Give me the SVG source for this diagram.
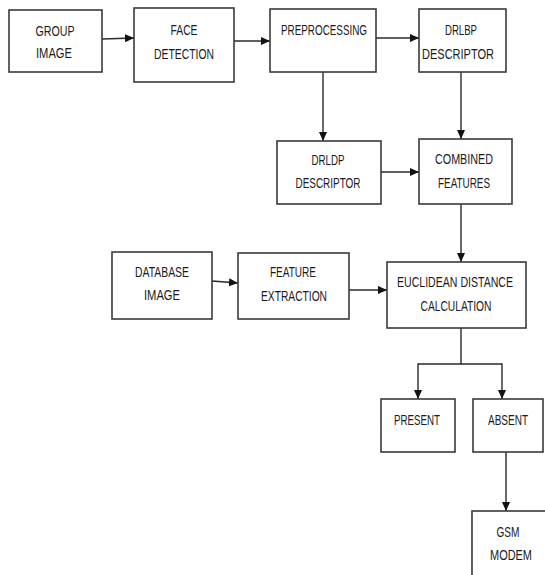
<svg xmlns="http://www.w3.org/2000/svg" width="545" height="575" viewBox="0 0 545 575">
<style>
.box{fill:#fff;stroke:#3a3a3a;stroke-width:1.6}
.t{font-family:"Liberation Sans Narrow","Liberation Sans",Arial,sans-serif;font-size:15px;fill:#1a1a22;text-anchor:middle}
.c{fill:none;stroke:#2a2a2a;stroke-width:1.4}
</style>
<defs>
<marker id="ah" markerWidth="9" markerHeight="8" refX="9" refY="4" orient="auto" markerUnits="userSpaceOnUse">
<path d="M0,0 L9,4 L0,8 Z" fill="#111"/>
</marker>
</defs>
<rect width="545" height="575" fill="#fff"/>
<g id="connectors">
<path class="c" d="M102,39 L134,38" marker-end="url(#ah)"/>
<path class="c" d="M234,41 L270,41" marker-end="url(#ah)"/>
<path class="c" d="M376,38 L419,38" marker-end="url(#ah)"/>
<path class="c" d="M323,72 L323,141" marker-end="url(#ah)"/>
<path class="c" d="M461,72 L461,139" marker-end="url(#ah)"/>
<path class="c" d="M381,172 L419,172" marker-end="url(#ah)"/>
<path class="c" d="M461,204 L461,262" marker-end="url(#ah)"/>
<path class="c" d="M212,281 L238,283" marker-end="url(#ah)"/>
<path class="c" d="M349,290 L387,290" marker-end="url(#ah)"/>
<path class="c" d="M461,328 L461,364 L418,364 L418,399" marker-end="url(#ah)"/>
<path class="c" d="M461,364 L502,364 L502,399" marker-end="url(#ah)"/>
<path class="c" d="M506,452 L506,511" marker-end="url(#ah)"/>
</g>
<g id="group-image">
<rect class="box" x="9" y="10" width="93" height="62"/>
<text class="t" x="55" y="36" textLength="39" lengthAdjust="spacingAndGlyphs">GROUP</text>
<text class="t" x="54" y="58" textLength="36" lengthAdjust="spacingAndGlyphs">IMAGE</text>
</g>
<g id="face-detection">
<rect class="box" x="134" y="8" width="100" height="74"/>
<text class="t" x="184" y="35" textLength="27" lengthAdjust="spacingAndGlyphs">FACE</text>
<text class="t" x="184" y="59" textLength="60" lengthAdjust="spacingAndGlyphs">DETECTION</text>
</g>
<g id="preprocessing">
<rect class="box" x="270" y="9" width="106" height="63"/>
<text class="t" x="324" y="35" textLength="86" lengthAdjust="spacingAndGlyphs">PREPROCESSING</text>
</g>
<g id="drlbp">
<rect class="box" x="419" y="9" width="87" height="63"/>
<text class="t" x="461" y="35" textLength="32" lengthAdjust="spacingAndGlyphs">DRLBP</text>
<text class="t" x="458" y="59" textLength="72" lengthAdjust="spacingAndGlyphs">DESCRIPTOR</text>
</g>
<g id="drldp">
<rect class="box" x="277" y="141" width="104" height="63"/>
<text class="t" x="328" y="165" textLength="33" lengthAdjust="spacingAndGlyphs">DRLDP</text>
<text class="t" x="328" y="188" textLength="65" lengthAdjust="spacingAndGlyphs">DESCRIPTOR</text>
</g>
<g id="combined">
<rect class="box" x="419" y="139" width="93" height="65"/>
<text class="t" x="464" y="164" textLength="58" lengthAdjust="spacingAndGlyphs">COMBINED</text>
<text class="t" x="464" y="188" textLength="52" lengthAdjust="spacingAndGlyphs">FEATURES</text>
</g>
<g id="database-image">
<rect class="box" x="112" y="252" width="100" height="67"/>
<text class="t" x="162" y="277" textLength="54" lengthAdjust="spacingAndGlyphs">DATABASE</text>
<text class="t" x="162" y="300" textLength="36" lengthAdjust="spacingAndGlyphs">IMAGE</text>
</g>
<g id="feature-extraction">
<rect class="box" x="238" y="253" width="111" height="66"/>
<text class="t" x="293" y="277" textLength="46" lengthAdjust="spacingAndGlyphs">FEATURE</text>
<text class="t" x="294" y="301" textLength="66" lengthAdjust="spacingAndGlyphs">EXTRACTION</text>
</g>
<g id="euclidean">
<rect class="box" x="387" y="262" width="139" height="66"/>
<text class="t" x="455" y="287" textLength="116" lengthAdjust="spacingAndGlyphs">EUCLIDEAN DISTANCE</text>
<text class="t" x="456" y="311" textLength="71" lengthAdjust="spacingAndGlyphs">CALCULATION</text>
</g>
<g id="present">
<rect class="box" x="381" y="399" width="74" height="53"/>
<text class="t" x="417" y="425" textLength="46" lengthAdjust="spacingAndGlyphs">PRESENT</text>
</g>
<g id="absent">
<rect class="box" x="473" y="399" width="70" height="53"/>
<text class="t" x="508" y="425" textLength="40" lengthAdjust="spacingAndGlyphs">ABSENT</text>
</g>
<g id="gsm-modem">
<rect class="box" x="472" y="511" width="90" height="80"/>
<text class="t" x="508" y="537" textLength="23" lengthAdjust="spacingAndGlyphs">GSM</text>
<text class="t" x="511" y="560" textLength="42" lengthAdjust="spacingAndGlyphs">MODEM</text>
</g>
</svg>
